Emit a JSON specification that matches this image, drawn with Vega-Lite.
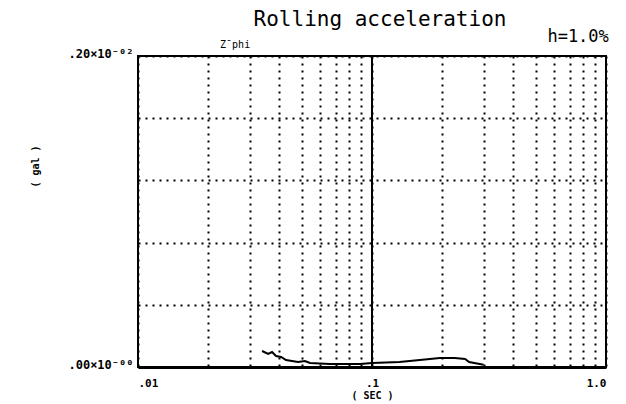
{
  "$schema": "https://vega.github.io/schema/vega-lite/v6.json",
  "width": 468,
  "height": 311,
  "autosize": "none",
  "padding": {"left": 138, "top": 56, "right": 20, "bottom": 37},
  "background": "white",
  "config": {
    "view": {"stroke": "black", "strokeWidth": 2},
    "font": "DejaVu Sans Mono"
  },
  "title": {
    "text": "Rolling acceleration",
    "font": "DejaVu Sans Mono",
    "fontSize": 21,
    "fontWeight": "normal",
    "color": "black",
    "anchor": "middle",
    "frame": "group",
    "dx": 8,
    "offset": -2
  },
  "datasets": {
    "curve": [
      {"period": 0.0339, "acc": 0.000103},
      {"period": 0.036, "acc": 0.0000836},
      {"period": 0.0374, "acc": 0.0000965},
      {"period": 0.0389, "acc": 0.0000707},
      {"period": 0.0409, "acc": 0.0000643},
      {"period": 0.0429, "acc": 0.000045},
      {"period": 0.0455, "acc": 0.0000386},
      {"period": 0.0483, "acc": 0.0000322},
      {"period": 0.0517, "acc": 0.0000386},
      {"period": 0.0543, "acc": 0.0000257},
      {"period": 0.066, "acc": 0.0000193},
      {"period": 0.089, "acc": 0.0000193},
      {"period": 0.1, "acc": 0.0000257},
      {"period": 0.131, "acc": 0.0000322},
      {"period": 0.16, "acc": 0.000045},
      {"period": 0.195, "acc": 0.0000579},
      {"period": 0.226, "acc": 0.0000579},
      {"period": 0.25, "acc": 0.0000514},
      {"period": 0.26, "acc": 0.0000322},
      {"period": 0.3, "acc": 0.000015}
    ],
    "major": [{"period": 0.1}],
    "notes": [
      {"period": 0.026, "acc": 0.00207, "label": "Z¯phi", "kind": "small"},
      {"period": 0.76, "acc": 0.00212, "label": "h=1.0%", "kind": "big"}
    ]
  },
  "layer": [
    {
      "data": {"name": "curve"},
      "mark": {"type": "line", "color": "black", "strokeWidth": 2},
      "encoding": {
        "x": {
          "field": "period",
          "type": "quantitative",
          "scale": {"type": "log", "domain": [0.01, 1], "nice": false},
          "axis": {
            "values": [0.01, 0.02, 0.03, 0.04, 0.05, 0.06, 0.07, 0.08, 0.09, 0.1, 0.2, 0.3, 0.4, 0.5, 0.6, 0.7, 0.8, 0.9, 1],
            "labelExpr": "datum.value == 0.01 ? '.01' : (abs(datum.value - 0.1) < 1e-9 ? '.1' : (datum.value == 1 ? '1.0' : ''))",
            "grid": true,
            "gridColor": "black",
            "gridDash": [2, 5],
            "gridWidth": 2,
            "gridOpacity": 1,
            "ticks": false,
            "domain": true,
            "domainColor": "black",
            "domainWidth": 3,
            "labelFont": "DejaVu Sans Mono",
            "labelFontWeight": "bold",
            "labelFontSize": 11,
            "labelColor": "black",
            "labelPadding": 10,
            "title": "( SEC )",
            "titleFont": "DejaVu Sans Mono",
            "titleFontWeight": "bold",
            "titleFontSize": 10,
            "titleColor": "black",
            "titlePadding": 2
          }
        },
        "y": {
          "field": "acc",
          "type": "quantitative",
          "scale": {"domain": [0, 0.002], "nice": false},
          "axis": {
            "values": [0, 0.0004, 0.0008, 0.0012, 0.0016, 0.002],
            "labelExpr": "datum.value == 0 ? '.00×10⁻⁰⁰' : (datum.value == 0.002 ? '.20×10⁻⁰²' : '')",
            "grid": true,
            "gridColor": "black",
            "gridDash": [2, 5],
            "gridWidth": 2,
            "gridOpacity": 1,
            "ticks": false,
            "domain": false,
            "labelFont": "DejaVu Sans Mono",
            "labelFontWeight": "bold",
            "labelFontSize": 12,
            "labelColor": "black",
            "labelPadding": 5,
            "labelOffset": -3,
            "title": "( gal )",
            "titleFont": "DejaVu Sans Mono",
            "titleFontWeight": "bold",
            "titleFontSize": 10,
            "titleColor": "black",
            "titleX": -98,
            "titleY": 110
          }
        }
      }
    },
    {
      "data": {"name": "major"},
      "mark": {"type": "rule", "color": "black", "strokeWidth": 2},
      "encoding": {
        "x": {"field": "period", "type": "quantitative"}
      }
    },
    {
      "data": {"name": "notes"},
      "mark": {"type": "text", "color": "black", "font": "DejaVu Sans Mono", "baseline": "middle", "align": "center"},
      "encoding": {
        "x": {"field": "period", "type": "quantitative"},
        "y": {"field": "acc", "type": "quantitative"},
        "text": {"field": "label"},
        "size": {"field": "kind", "type": "nominal", "scale": {"domain": ["small", "big"], "range": [10, 17]}, "legend": null},
        "fontWeight": {"field": "kind", "type": "nominal", "scale": {"domain": ["small", "big"], "range": ["bold", "normal"]}, "legend": null}
      }
    }
  ]
}
